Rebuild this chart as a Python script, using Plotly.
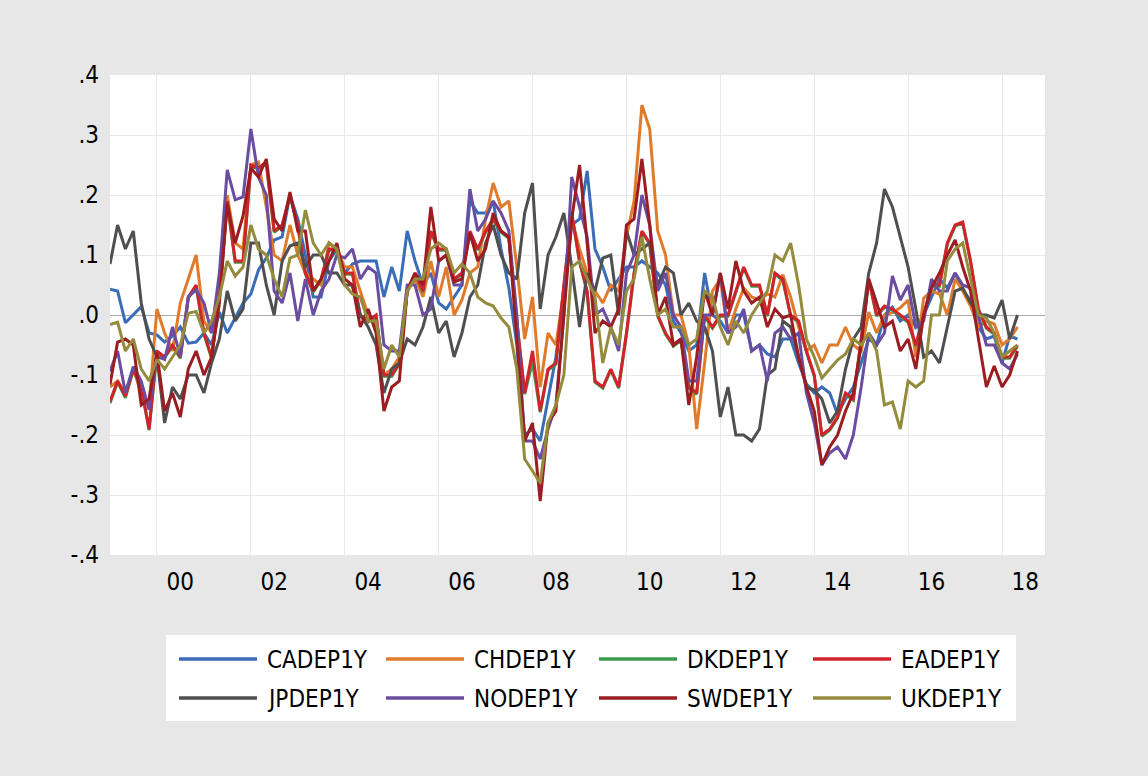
import pandas as pd
import plotly.graph_objects as go

# ---------------- data (bimonthly readings, Jan 1999 .. May 2018) ----------------
dates = pd.date_range("1999-01-01", periods=117, freq="2MS")

CADEP1Y = [0.043, 0.04, -0.013, 0.0, 0.014, -0.03, -0.033, -0.045, -0.035, -0.02, -0.047, -0.045,
           -0.03, -0.05, 0.005, -0.03, -0.005, 0.02, 0.035, 0.075, 0.095, 0.125, 0.13, 0.2,
           0.16, 0.10, 0.03, 0.03, 0.09, 0.11, 0.07, 0.085, 0.09, 0.09, 0.09, 0.03,
           0.08, 0.04, 0.14, 0.09, 0.05, 0.07, 0.02, 0.01, 0.03, 0.05, 0.19, 0.17,
           0.17, 0.19, 0.11, 0.045, -0.05, -0.2, -0.19, -0.21, -0.14, -0.07, 0.03, 0.15,
           0.16, 0.24, 0.11, 0.08, 0.04, 0.06, 0.08, 0.08, 0.09, 0.08, 0.07, 0.05,
           -0.01, -0.03, -0.06, -0.05, 0.07, 0.0, -0.01, -0.03, 0.0, 0.0, -0.06, -0.05,
           -0.065, -0.07, -0.04, -0.04, -0.08, -0.115, -0.13, -0.12, -0.13, -0.165, -0.14, -0.12,
           -0.08, -0.04, -0.05, 0.0, 0.013, -0.01, 0.0, -0.02, 0.0, 0.03, 0.06, 0.045,
           0.07, 0.04, 0.025, -0.02, -0.04, -0.035, -0.08, -0.035, -0.04]

CHDEP1Y = [-0.12, -0.11, -0.13, -0.09, -0.13, -0.15, 0.01, -0.03, -0.06, 0.02, 0.06, 0.10,
           -0.01, -0.03, 0.03, 0.20, 0.12, 0.11, 0.25, 0.255, 0.18, 0.10, 0.09, 0.15,
           0.10, 0.07, 0.06, 0.05, 0.12, 0.11, 0.08, 0.08, 0.04, 0.0, -0.02, -0.10,
           -0.09, -0.07, 0.04, 0.06, 0.03, 0.09, 0.03, 0.08, 0.0, 0.025, 0.07, 0.08,
           0.16, 0.22, 0.18, 0.19, 0.08, -0.04, 0.03, -0.12, -0.03, -0.05, 0.04, 0.16,
           0.11, 0.07, 0.04, 0.02, 0.05, 0.04, 0.13, 0.19, 0.35, 0.31, 0.14, 0.10,
           0.0, 0.0, -0.05, -0.19, -0.08, 0.04, 0.06, -0.03, 0.01, 0.045, 0.03, 0.025,
           0.035, 0.03, 0.067, 0.03, -0.02, -0.06, -0.05, -0.08, -0.05, -0.05, -0.02, -0.05,
           -0.06, 0.005, -0.03, 0.0, 0.004, 0.012, 0.025, -0.07, 0.028, 0.04, 0.035, 0.0,
           0.06, 0.04, 0.015, -0.02, -0.01, -0.015, -0.05, -0.04, -0.02]

DKDEP1Y = [-0.147, -0.112, -0.138, -0.092, -0.121, -0.192, -0.062, -0.071, -0.052, -0.072, 0.028, 0.048,
           -0.032, -0.072, 0.028, 0.187, 0.088, 0.088, 0.248, 0.244, 0.252, 0.138, 0.148, 0.198,
           0.148, 0.068, 0.038, 0.058, 0.108, 0.108, 0.068, 0.068, -0.002, -0.012, -0.002, -0.102,
           -0.102, -0.082, 0.038, 0.068, 0.038, 0.138, 0.108, 0.108, 0.058, 0.068, 0.138, 0.108,
           0.138, 0.158, 0.138, 0.128, -0.012, -0.132, -0.078, -0.162, -0.092, -0.082, 0.048, 0.168,
           0.088, 0.038, -0.112, -0.122, -0.092, -0.122, -0.032, 0.068, 0.138, 0.118, -0.002, -0.032,
           -0.052, -0.042, -0.122, -0.132, -0.002, -0.022, -0.002, -0.002, 0.038, 0.078, 0.048, 0.048,
           -0.002, 0.068, 0.058, -0.002, -0.012, -0.062, -0.102, -0.202, -0.192, -0.172, -0.132, -0.142,
           -0.042, 0.058, -0.002, 0.013, 0.008, -0.002, -0.012, -0.052, -0.002, 0.048, 0.048, 0.118,
           0.148, 0.153, 0.088, 0.008, -0.022, -0.032, -0.072, -0.072, -0.052]

EADEP1Y = [-0.144, -0.11, -0.135, -0.09, -0.12, -0.19, -0.06, -0.07, -0.05, -0.07, 0.03, 0.05,
           -0.03, -0.07, 0.03, 0.19, 0.09, 0.09, 0.25, 0.245, 0.255, 0.14, 0.15, 0.20,
           0.15, 0.07, 0.04, 0.06, 0.11, 0.11, 0.07, 0.07, 0.0, -0.01, 0.0, -0.10,
           -0.10, -0.08, 0.04, 0.07, 0.04, 0.14, 0.11, 0.11, 0.06, 0.07, 0.14, 0.11,
           0.14, 0.16, 0.14, 0.13, -0.01, -0.13, -0.06, -0.16, -0.09, -0.08, 0.05, 0.17,
           0.09, 0.04, -0.11, -0.12, -0.09, -0.12, -0.03, 0.07, 0.14, 0.12, 0.0, -0.03,
           -0.05, -0.04, -0.12, -0.13, 0.0, -0.02, 0.0, 0.0, 0.04, 0.08, 0.05, 0.05,
           0.0, 0.07, 0.06, 0.0, -0.01, -0.06, -0.1, -0.2, -0.19, -0.17, -0.13, -0.14,
           -0.04, 0.06, 0.0, 0.015, 0.01, 0.0, -0.01, -0.05, 0.0, 0.05, 0.05, 0.12,
           0.15, 0.155, 0.09, 0.01, -0.02, -0.03, -0.07, -0.07, -0.05]

JPDEP1Y = [0.085, 0.15, 0.11, 0.14, 0.02, -0.04, -0.07, -0.18, -0.12, -0.14, -0.10, -0.10,
           -0.13, -0.08, -0.04, 0.04, -0.01, 0.01, 0.12, 0.12, 0.05, 0.0, 0.09, 0.115,
           0.12, 0.08, 0.10, 0.10, 0.07, 0.07, 0.05, 0.05, 0.0, -0.02, -0.05, -0.13,
           -0.09, -0.08, -0.04, -0.05, -0.02, 0.03, -0.03, -0.01, -0.07, -0.03, 0.03, 0.05,
           0.12, 0.15, 0.10, 0.07, 0.06, 0.17, 0.22, 0.01, 0.10, 0.13, 0.17, 0.08,
           -0.02, 0.07, 0.04, 0.095, 0.10, 0.0, 0.14, 0.10, 0.11, 0.12, 0.05, 0.08,
           0.07, 0.0, 0.02, -0.01, -0.02, -0.06, -0.17, -0.12, -0.2, -0.2, -0.21, -0.19,
           -0.1, -0.09, -0.01, -0.02, -0.07, -0.12, -0.125, -0.14, -0.18, -0.16, -0.09, -0.04,
           -0.02, 0.07, 0.12, 0.21, 0.18, 0.13, 0.08, 0.01, -0.07, -0.06, -0.08, -0.02,
           0.04, 0.045, 0.02, 0.0, 0.0, -0.005, 0.025, -0.04, 0.0]

NODEP1Y = [-0.094, -0.06, -0.13, -0.086, -0.11, -0.158, -0.069, -0.074, -0.02, -0.069, 0.03, 0.042,
           0.02, -0.03, 0.07, 0.242, 0.192, 0.197, 0.31, 0.23, 0.20, 0.04, 0.02, 0.07,
           -0.01, 0.06, 0.0, 0.04, 0.06, 0.10, 0.095, 0.11, 0.06, 0.08, 0.07, -0.05,
           -0.06, -0.06, 0.05, 0.05, 0.0, 0.01, 0.09, 0.10, 0.05, 0.05, 0.21, 0.14,
           0.16, 0.19, 0.17, 0.14, 0.0, -0.21, -0.21, -0.24, -0.19, -0.15, 0.0, 0.23,
           0.18, 0.13, 0.0, 0.01, -0.02, -0.06, 0.07, 0.10, 0.20, 0.15, 0.04, 0.07,
           0.0, -0.02, -0.11, -0.11, 0.0, 0.0, 0.07, -0.03, -0.02, 0.01, -0.06, -0.05,
           -0.11, -0.03, -0.02, -0.04, -0.03, -0.13, -0.18, -0.25, -0.23, -0.22, -0.24, -0.2,
           -0.12, -0.03, -0.05, -0.03, 0.065, 0.025, 0.05, -0.02, -0.01, 0.06, 0.04, 0.04,
           0.07, 0.05, 0.045, 0.0, -0.05, -0.05, -0.08, -0.09, -0.065]

SWDEP1Y = [-0.116, -0.045, -0.04, -0.05, -0.15, -0.14, -0.063, -0.16, -0.13, -0.17, -0.09, -0.06,
           -0.10, -0.07, 0.02, 0.186, 0.12, 0.165, 0.245, 0.23, 0.26, 0.16, 0.14, 0.205,
           0.14, 0.14, 0.04, 0.06, 0.09, 0.12, 0.06, 0.05, -0.02, 0.01, -0.03, -0.16,
           -0.12, -0.11, 0.04, 0.07, 0.05, 0.18, 0.09, 0.10, 0.055, 0.06, 0.137, 0.09,
           0.11, 0.17, 0.14, 0.13, -0.04, -0.21, -0.18, -0.31, -0.18, -0.16, 0.0, 0.16,
           0.25, 0.12, -0.03, -0.01, -0.02, 0.01, 0.15, 0.16, 0.26, 0.15, 0.0, 0.03,
           -0.05, -0.04, -0.15, -0.07, 0.04, 0.0, 0.07, 0.01, 0.09, 0.04, 0.02, 0.03,
           -0.02, 0.01, -0.005, 0.0, -0.07, -0.12, -0.16, -0.25, -0.22, -0.2, -0.16, -0.13,
           -0.05, 0.06, 0.02, -0.02, -0.01, -0.06, -0.04, -0.09, 0.0, 0.045, 0.07, 0.1,
           0.125, 0.08, 0.04, -0.04, -0.12, -0.085, -0.12, -0.1, -0.06]

UKDEP1Y = [-0.016, -0.012, -0.06, -0.04, -0.09, -0.11, -0.074, -0.09, -0.07, -0.05, 0.003, 0.006,
           -0.03, -0.01, 0.03, 0.09, 0.065, 0.08, 0.15, 0.11, 0.10, 0.06, 0.03, 0.095,
           0.10, 0.175, 0.12, 0.10, 0.12, 0.11, 0.05, 0.035, 0.03, -0.01, -0.01, -0.09,
           -0.05, -0.07, 0.04, 0.06, 0.06, 0.11, 0.12, 0.11, 0.07, 0.085, 0.07, 0.03,
           0.02, 0.015, -0.005, -0.02, -0.09, -0.24, -0.26, -0.28, -0.18, -0.15, -0.1, 0.08,
           0.09, 0.06, 0.03, -0.08, -0.02, -0.05, 0.04, 0.06, 0.13, 0.06, 0.0, 0.01,
           -0.02, -0.02, -0.05, -0.04, 0.04, 0.03, -0.02, -0.05, -0.01, -0.03, 0.0, 0.02,
           0.04, 0.1, 0.09, 0.12, 0.05, -0.04, -0.07, -0.105, -0.09, -0.075, -0.065, -0.04,
           -0.05, -0.03, -0.06, -0.15, -0.145, -0.19, -0.11, -0.12, -0.11, 0.0, 0.0, 0.09,
           0.11, 0.12, 0.06, 0.0, -0.005, -0.03, -0.07, -0.06, -0.05]

series_names = ["CADEP1Y", "CHDEP1Y", "DKDEP1Y", "EADEP1Y",
                "JPDEP1Y", "NODEP1Y", "SWDEP1Y", "UKDEP1Y"]
series_values = [CADEP1Y, CHDEP1Y, DKDEP1Y, EADEP1Y,
                 JPDEP1Y, NODEP1Y, SWDEP1Y, UKDEP1Y]

y_tick_vals = [0.4, 0.3, 0.2, 0.1, 0.0, -0.1, -0.2, -0.3, -0.4]
y_tick_text = [".4", ".3", ".2", ".1", ".0", "-.1", "-.2", "-.3", "-.4"]
x_label_years = list(range(2000, 2019, 2))
x_tick_text = ["00", "02", "04", "06", "08", "10", "12", "14", "16", "18"]

# ---------------- styling ----------------
colors = ["#3A6DB8", "#E07B2C", "#3C9A4B", "#D2232A",
          "#4F4F4F", "#6A4CA0", "#9B1D21", "#958B3C"]
FONT = "DejaVu Sans Condensed, Liberation Sans Narrow, Arial Narrow, Liberation Sans, sans-serif"
FS = 24
BG = "#E7E7E7"
GRID = "#E8E8E8"

W, H = 1148, 776
L, R, T, B = 110, 103, 75, 221
PW = W - L - R
PH = H - T - B


def px_x(px):
    return (px - L) / PW


def px_y(py):
    return (H - B - py) / PH


fig = go.Figure()
for name, vals, col in zip(series_names, series_values, colors):
    fig.add_trace(go.Scatter(
        x=dates, y=vals, mode="lines", name=name,
        line=dict(color=col, width=3), showlegend=False,
    ))

fig.update_layout(
    width=W, height=H,
    margin=dict(l=L, r=R, t=T, b=B),
    paper_bgcolor=BG, plot_bgcolor="white",
    font=dict(family=FONT, size=FS, color="black"),
)

fig.update_xaxes(
    range=["1999-01-01", "2018-12-01"],
    tickmode="array",
    tickvals=[f"{y}-07-01" for y in x_label_years],
    ticktext=x_tick_text,
    showgrid=False, ticks="", showline=False, zeroline=False,
    ticklabelstandoff=10,
    tickfont=dict(family=FONT, size=FS, color="black"),
    minor=dict(tickmode="array",
               tickvals=[f"{y}-01-01" for y in x_label_years],
               showgrid=True, gridcolor=GRID, gridwidth=1, ticks=""),
)

fig.update_yaxes(
    range=[-0.4, 0.4],
    tickmode="array", tickvals=y_tick_vals, ticktext=y_tick_text,
    showgrid=True, gridcolor=GRID, gridwidth=1,
    zeroline=True, zerolinecolor="#ABABAB", zerolinewidth=1,
    ticks="", showline=False, ticklabelstandoff=10,
    tickfont=dict(family=FONT, size=FS, color="black"),
)

# ---------------- legend (drawn as box, line samples and labels) ----------------
shapes = [dict(type="rect", xref="paper", yref="paper",
               x0=px_x(166), x1=px_x(1016), y0=px_y(721), y1=px_y(635),
               fillcolor="white", line=dict(width=0), layer="above")]
annotations = []
col_x = [179, 386, 599, 813]
row_y = [659, 698]
for i, (name, col) in enumerate(zip(series_names, colors)):
    cx = col_x[i % 4]
    ry = row_y[i // 4]
    shapes.append(dict(type="line", xref="paper", yref="paper",
                       x0=px_x(cx), x1=px_x(cx + 78), y0=px_y(ry), y1=px_y(ry),
                       line=dict(color=col, width=3.5), layer="above"))
    annotations.append(dict(xref="paper", yref="paper",
                            x=px_x(cx + 86), y=px_y(ry + 1),
                            xanchor="left", yanchor="middle",
                            text=name, showarrow=False,
                            font=dict(family=FONT, size=FS, color="black")))

fig.update_layout(shapes=shapes, annotations=annotations)

fig.write_html("out.html",
               config={"displayModeBar": False},
               post_script="document.body.style.margin='0px';"
                           "document.body.style.background='#E7E7E7';")
